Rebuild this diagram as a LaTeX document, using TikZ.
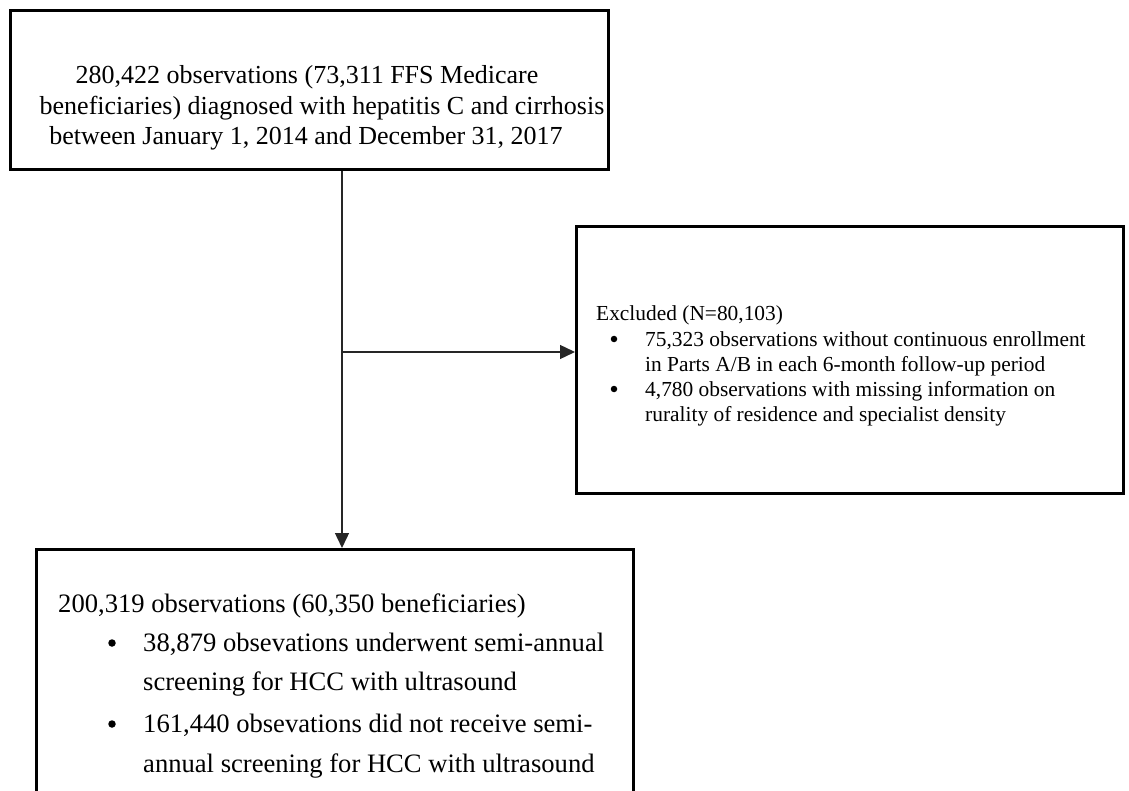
\documentclass[tikz,border=0pt]{standalone}
\usepackage{fontspec}
\setmainfont{Liberation Serif}
\usetikzlibrary{arrows.meta}
\begin{document}
\begin{tikzpicture}[x=1pt,y=-1pt,
  box/.style={draw, line width=2.6pt, rectangle, inner sep=0pt, anchor=north west},
  conn/.style={line width=1.4pt, draw=black!85},
  tip/.style={-{Triangle[length=15pt,width=14pt]}},
  big/.style={inner sep=0pt, font=\fontsize{26}{31}\selectfont},
  bigb/.style={inner sep=0pt, font=\fontsize{26.6}{31}\selectfont},
  small/.style={inner sep=0pt, font=\fontsize{21.4}{25}\selectfont},
  dot/.style={circle, fill=black, inner sep=0pt, minimum size=#1}]
\useasboundingbox (0,0) rectangle (1129,791);
\clip (0,0) rectangle (1129,791);
% boxes
\node[box, minimum width=598pt, minimum height=159pt] (top) at (9,9) {};
\node[box, minimum width=547pt, minimum height=267pt] (excl) at (575,225) {};
\node[box, minimum width=597pt, minimum height=290pt] (bot) at (35,548) {};
% top text
\node[big, anchor=base] (t1) at (307,84) {280,422 observations (73,311 FFS Medicare};
\node[big, anchor=base] (t2) at (322,115) {beneficiaries) diagnosed with hepatitis C and cirrhosis};
\node[big, anchor=base] (t3) at (306,145) {between January 1, 2014 and December 31, 2017};
% excluded text
\node[small, anchor=base west] (e0) at (596,321) {Excluded (N=80,103)};
\node[dot=6.5pt] (eb1) at (614,339) {};
\node[small, anchor=base west] (e1) at (645,346) {75,323 observations without continuous enrollment};
\node[small, anchor=base west] (e2) at (645,371) {in Parts A/B in each 6-month follow-up period};
\node[dot=6.5pt] (eb2) at (614,389) {};
\node[small, anchor=base west] (e3) at (645,396) {4,780 observations with missing information on};
\node[small, anchor=base west] (e4) at (645,421) {rurality of residence and specialist density};
% bottom text
\node[bigb, anchor=base west] (b0) at (58,612) {200,319 observations (60,350 beneficiaries)};
\node[dot=7.5pt] (bb1) at (112,643) {};
\node[bigb, anchor=base west] (b1) at (143,651) {38,879 obsevations underwent semi-annual};
\node[bigb, anchor=base west] (b2) at (143,690) {screening for HCC with ultrasound};
\node[dot=7.5pt] (bb2) at (112,724) {};
\node[bigb, anchor=base west] (b3) at (143,732) {161,440 obsevations did not receive semi-};
\node[bigb, anchor=base west] (b4) at (143,772) {annual screening for HCC with ultrasound};
% connectors
\coordinate (split) at (342,352);
\draw[conn] (top.south -| split) -- (split);
\draw[conn, tip] (split) -- (split -| excl.west);
\draw[conn, tip] (split) -- (split |- bot.north);
\end{tikzpicture}
\end{document}
